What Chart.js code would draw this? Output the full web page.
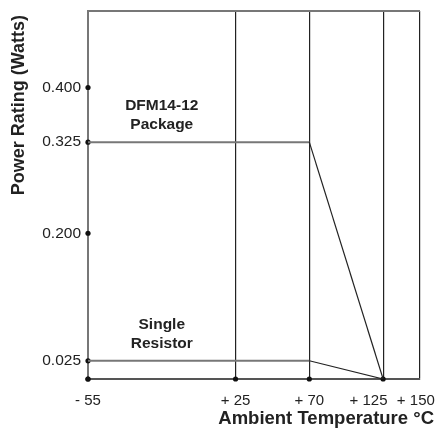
<!DOCTYPE html>
<html>
<head>
<meta charset="utf-8">
<script src="https://cdn.jsdelivr.net/npm/chart.js@4/dist/chart.umd.min.js"></script>
<style>
  body { margin: 0; background: #fff; }
  #wrap { width: 438px; height: 430px; }
</style>
</head>
<body>
<div id="wrap"><canvas id="derating"></canvas></div>
<script>
// x axis is drawn not to scale, so temperatures sit on a category axis
const tempLabels = ["- 55", "", "", "", "+ 25", "", "+ 70", "", "+ 125", "+ 150"];
const curveTemps = ["- 55", "+ 70", "+ 125"];
const packageWatts = [0.325, 0.325, 0];
const resistorWatts = [0.025, 0.025, 0];
const powerTicks = [0, 0.025, 0.2, 0.325, 0.4];
const dotTemps = ["- 55", "+ 25", "+ 70", "+ 125"];
const yMax = 0.505;

const textColor = "#222";
const greyLine = "#777";
const darkLine = "#222";
const fontFamily = "'Liberation Sans', Arial, sans-serif";

const toPoints = (xs, ys) => xs.map((x, i) => ({ x: x, y: ys[i] }));

// dots on the axes at each tick
const axisDots = powerTicks.map((v) => ({ x: tempLabels[0], y: v }))
  .concat(dotTemps.map((t) => ({ x: t, y: 0 })));

const curveSegment = {
  borderColor: (ctx) => ctx.p0.parsed.y === ctx.p1.parsed.y ? greyLine : darkLine,
  borderWidth: (ctx) => ctx.p0.parsed.y === ctx.p1.parsed.y ? 2 : 1.2,
};

const annotations = {
  id: "annotations",
  afterDraw(chart) {
    const { ctx, scales } = chart;
    const xs = scales.x, ys = scales.y;
    ctx.save();
    ctx.fillStyle = textColor;
    ctx.textAlign = "center";
    ctx.textBaseline = "middle";
    ctx.font = "bold 15.5px " + fontFamily;
    const cx = (xs.getPixelForValue(0) + xs.getPixelForValue(4)) / 2;
    const pkgY = ys.getPixelForValue(packageWatts[0]);
    ctx.fillText("DFM14-12", cx, pkgY - 36);
    ctx.fillText("Package", cx, pkgY - 17);
    const resY = ys.getPixelForValue(resistorWatts[0]);
    ctx.fillText("Single", cx, resY - 36);
    ctx.fillText("Resistor", cx, resY - 17);

    // axis titles
    ctx.font = "bold 18.5px " + fontFamily;
    ctx.textAlign = "right";
    ctx.fillText("Ambient Temperature °C", 434, 419);
    ctx.translate(19, 15);
    ctx.rotate(-Math.PI / 2);
    ctx.font = "bold 18px " + fontFamily;
    ctx.textAlign = "right";
    ctx.fillText("Power Rating (Watts)", 0, 0);
    ctx.restore();
  },
};

new Chart(document.getElementById("derating"), {
  type: "line",
  data: {
    labels: tempLabels,
    datasets: [
      {
        label: "DFM14-12 Package",
        data: toPoints(curveTemps, packageWatts),
        segment: curveSegment,
        borderColor: greyLine,
        pointRadius: 0,
        fill: false,
      },
      {
        label: "Single Resistor",
        data: toPoints(curveTemps, resistorWatts),
        segment: curveSegment,
        borderColor: greyLine,
        pointRadius: 0,
        fill: false,
      },
      {
        label: "ticks",
        data: axisDots,
        showLine: false,
        pointRadius: 2.6,
        pointBackgroundColor: "#111",
        pointBorderWidth: 0,
        clip: false,
      },
    ],
  },
  options: {
    responsive: true,
    maintainAspectRatio: false,
    animation: false,
    layout: { padding: { top: 11, right: 18, left: 0, bottom: 0 } },
    plugins: {
      legend: { display: false },
      tooltip: { enabled: false },
    },
    scales: {
      x: {
        type: "category",
        offset: false,
        afterFit: (scale) => {
          scale.height = 51;
          scale.paddingLeft = 0;
          scale.paddingRight = 0;
        },
        border: { display: true, color: "#555", width: 2 },
        grid: {
          drawTicks: false,
          color: (ctx) => (ctx.index === 0 || ctx.tick.label === "") ? "rgba(0,0,0,0)" : darkLine,
          lineWidth: 1.2,
        },
        ticks: {
          autoSkip: false,
          maxRotation: 0,
          padding: 13,
          color: textColor,
          font: { size: 15, family: fontFamily },
          // nudge +125 and +150 left so they clear each other and the edge
          callback: function (value) {
            const lbl = this.getLabelForValue(value);
            if (lbl === "+ 125") return lbl + "       ";
            if (lbl === "+ 150") return lbl + "  ";
            return lbl;
          },
        },
      },
      y: {
        min: 0,
        max: yMax,
        afterFit: (scale) => {
          scale.width = 88;
          scale.paddingTop = 0;
          scale.paddingBottom = 0;
        },
        afterBuildTicks: (scale) => {
          scale.ticks = powerTicks.concat([yMax]).map((v) => ({ value: v }));
        },
        border: { display: true, color: greyLine, width: 2 },
        grid: {
          drawTicks: false,
          color: (ctx) => ctx.tick.value === yMax ? greyLine : "rgba(0,0,0,0)",
          lineWidth: 2,
        },
        ticks: {
          padding: 7,
          color: textColor,
          font: { size: 15.5, family: fontFamily },
          callback: (v) => (v === 0 || v === yMax) ? "" : v.toFixed(3),
        },
      },
    },
  },
  plugins: [annotations],
});
</script>
</body>
</html>
